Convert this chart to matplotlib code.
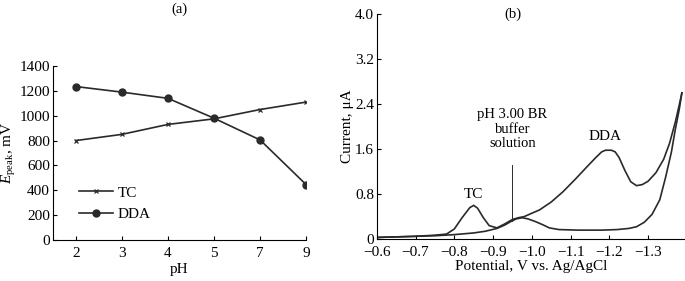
import matplotlib.pyplot as plt
import numpy as np

plt.rcParams['font.family'] = ['Liberation Serif', 'DejaVu Serif']
plt.rcParams['mathtext.fontset'] = 'custom'
plt.rcParams['mathtext.rm'] = 'Liberation Serif'
plt.rcParams['mathtext.it'] = 'Liberation Serif:italic'

# (a) peak potential vs pH
ph = ['2', '3', '4', '5', '7', '9']
tc_peak = [800, 850, 930, 975, 1050, 1110]
dda_peak = [1235, 1190, 1140, 980, 805, 445]

# (b) voltammogram, forward (upper) branch
fwd_e = [-0.60, -0.65, -0.70, -0.75, -0.78, -0.80, -0.82, -0.84, -0.85, -0.86, -0.875,
         -0.89, -0.91, -0.93, -0.95, -0.965, -0.98, -1.00, -1.02, -1.05, -1.08, -1.11,
         -1.14, -1.165, -1.18, -1.19, -1.205, -1.215, -1.225, -1.24, -1.255, -1.27,
         -1.285, -1.30, -1.32, -1.34, -1.355, -1.37, -1.38, -1.387]
fwd_i = [0.03, 0.04, 0.05, 0.07, 0.09, 0.18, 0.38, 0.56, 0.60, 0.55, 0.38,
         0.24, 0.20, 0.27, 0.35, 0.38, 0.40, 0.46, 0.52, 0.66, 0.84, 1.05,
         1.27, 1.45, 1.55, 1.58, 1.58, 1.55, 1.45, 1.22, 1.02, 0.95,
         0.97, 1.03, 1.18, 1.42, 1.70, 2.08, 2.38, 2.60]
# reverse (lower) branch
rev_e = [-1.387, -1.38, -1.37, -1.36, -1.345, -1.33, -1.31, -1.29, -1.27, -1.25,
         -1.22, -1.18, -1.12, -1.07, -1.045, -1.03, -1.01, -0.99, -0.975, -0.96,
         -0.945, -0.93, -0.91, -0.88, -0.85, -0.80, -0.75, -0.70, -0.60]
rev_i = [2.60, 2.30, 1.95, 1.55, 1.10, 0.70, 0.44, 0.30, 0.22, 0.19,
         0.17, 0.16, 0.16, 0.17, 0.20, 0.25, 0.31, 0.36, 0.38, 0.36,
         0.31, 0.25, 0.19, 0.14, 0.11, 0.08, 0.06, 0.05, 0.03]

fig = plt.figure(figsize=(6.85, 2.81), dpi=100)
ax1 = fig.add_axes([0.077, 0.146, 0.370, 0.619])
ax2 = fig.add_axes([0.550, 0.149, 0.450, 0.801])

x = np.arange(len(ph))
ax1.plot(x, tc_peak, color='#2a2a2a', lw=1.2, marker='x', ms=3.5, mew=0.9, label='TC')
ax1.plot(x, dda_peak, color='#2a2a2a', lw=1.2, marker='o', ms=5, label='DDA')
ax1.set_xlim(-0.5, 5.0)
ax1.set_ylim(0, 1400)
ax1.set_xticks(x)
ax1.set_xticklabels(ph)
ax1.set_yticks(range(0, 1401, 200))
ax1.set_xlabel('pH', fontsize=11, labelpad=2)
ax1.set_ylabel(r'$\mathit{E}_{\rm peak}$, mV', fontsize=11, labelpad=1)
ax1.legend(loc='lower left', bbox_to_anchor=(0.05, 0.03), frameon=False,
           fontsize=11, handlelength=2.2, labelspacing=0.5, handletextpad=0.3)
ax1.set_title('(a)', fontsize=10.5, pad=38)

ax2.plot(fwd_e, fwd_i, color='#2a2a2a', lw=1.2)
ax2.plot(rev_e, rev_i, color='#2a2a2a', lw=1.2)
ax2.set_xlim(-0.6, -1.395)
ax2.set_ylim(0, 4.0)
ax2.set_xticks([-0.6, -0.7, -0.8, -0.9, -1.0, -1.1, -1.2, -1.3])
ax2.set_xticklabels(['\u22120.6', '\u22120.7', '\u22120.8', '\u22120.9', '\u22121.0',
                     '\u22121.1', '\u22121.2', '\u22121.3'])
ax2.set_yticks([0, 0.8, 1.6, 2.4, 3.2, 4.0])
ax2.set_yticklabels(['0', '0.8', '1.6', '2.4', '3.2', '4.0'])
ax2.set_xlabel('Potential, V vs. Ag/AgCl', fontsize=11, labelpad=1)
ax2.set_ylabel('Current, \u03bcA', fontsize=11, labelpad=1)
ax2.text(-0.85, 0.80, 'TC', ha='center', va='center', fontsize=11)
ax2.text(-1.19, 1.82, 'DDA', ha='center', va='center', fontsize=11)
ax2.text(-0.95, 1.95, 'pH 3.00 BR\nbuffer\nsolution', ha='center', va='center',
         fontsize=10.5, linespacing=1.15)
ax2.plot([-0.95, -0.95], [0.33, 1.32], color='#2a2a2a', lw=0.7)
ax2.text(-0.95, 4.0, '(b)', ha='center', va='center', fontsize=10.5)

for ax in (ax1, ax2):
    ax.spines['top'].set_visible(False)
    ax.spines['right'].set_visible(False)
    ax.tick_params(direction='in', length=3, labelsize=11)
    ax.tick_params(axis='y', pad=2)
    ax.tick_params(axis='x', pad=5)

fig.savefig('out.png', dpi=100)
